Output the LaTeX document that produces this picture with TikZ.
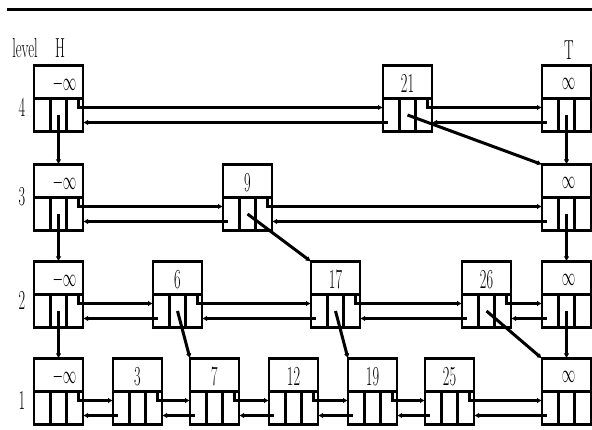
\documentclass[tikz,border=0pt]{standalone}
\usetikzlibrary{calc,arrows.meta}
\newcommand\tx[1]{\scalebox{0.65}[1.25]{#1}}
\tikzset{
  cellbox/.style={draw, line width=2.6pt, minimum width=49pt, minimum height=66pt, inner sep=0pt, outer sep=0pt},
  boxline/.style={line width=2.4pt},
  link/.style={line width=3pt, -{Latex[length=5pt,width=5.5pt]}},
  valtext/.style={font=\fontsize{22}{22}\selectfont, inner sep=0pt},
}
% name, left, top, label, label xshift
\newcommand\snode[5]{%
  \node[cellbox] (#1) at (#2+24.5,#3+33.5) {};
  \draw[boxline] (#1.west) -- (#1.east);
  \draw[boxline] ($(#1.south west)!1/3!(#1.south east)$) -- ($(#1.west)!1/3!(#1.east)$);
  \draw[boxline] ($(#1.south west)!2/3!(#1.south east)$) -- ($(#1.west)!2/3!(#1.east)$);
  \node[valtext] (#1-v) at ($(#1.north)!0.55!(#1.center)+(#5,0)$) {\tx{#4}};
  \coordinate (#1-m) at ($(#1.center)!0.5!(#1.south)$);
  \coordinate (#1-fo) at ($(#1.east)+(-5,0)$);
  \coordinate (#1-fk) at ($(#1.east)+(-5,9)$);
  \coordinate (#1-fi) at ($(#1.west)+(0,9)$);
  \coordinate (#1-bo) at ($(#1.west)+(5,24)$);
  \coordinate (#1-bi) at ($(#1.east)+(0,24)$);
}
\newcommand\biline[2]{%
  \draw[link] (#1-fo) -- (#1-fk) -- (#2-fi);
  \draw[link] (#2-bo) -- (#1-bi);
}
\begin{document}
\begin{tikzpicture}[x=1pt,y=-1pt]
\useasboundingbox (0,0) rectangle (592,430);
\coordinate (rl) at (7,10);
\coordinate (rr) at (592,10);
\draw[line width=3pt] (rl) -- (rr);

\node[valtext] (lev) at (25,48) {\tx{level}};
\node[valtext] (H) at (60,48) {\tx{H}};
\node[valtext] (T) at (569,50) {\tx{T}};
\node[valtext] (l4) at (22,107) {\tx{4}};
\node[valtext] (l3) at (22,197) {\tx{3}};
\node[valtext] (l2) at (22,300) {\tx{2}};
\node[valtext] (l1) at (22,400) {\tx{1}};

% level 4
\snode{a4}{34}{65}{$-\infty$}{6}
\snode{n21}{383}{65}{21}{0}
\snode{z4}{542}{65}{$\infty$}{2}
% level 3
\snode{a3}{34}{164}{$-\infty$}{6}
\snode{n9}{223}{164}{9}{0}
\snode{z3}{542}{164}{$\infty$}{2}
% level 2
\snode{a2}{34}{261}{$-\infty$}{6}
\snode{n6}{153}{261}{6}{0}
\snode{n17}{311}{261}{17}{0}
\snode{n26}{462}{261}{26}{0}
\snode{z2}{542}{261}{$\infty$}{2}
% level 1
\snode{a1}{34}{358}{$-\infty$}{6}
\snode{n3}{113}{358}{3}{0}
\snode{n7}{190}{358}{7}{0}
\snode{n12}{269}{358}{12}{0}
\snode{n19}{348}{358}{19}{0}
\snode{n25}{425}{358}{25}{0}
\snode{z1}{542}{358}{$\infty$}{2}

% horizontal links
\biline{a4}{n21}\biline{n21}{z4}
\biline{a3}{n9}\biline{n9}{z3}
\biline{a2}{n6}\biline{n6}{n17}\biline{n17}{n26}\biline{n26}{z2}
\biline{a1}{n3}\biline{n3}{n7}\biline{n7}{n12}\biline{n12}{n19}\biline{n19}{n25}\biline{n25}{z1}

% vertical links
\draw[link] (a4-m) -- (a3.north);
\draw[link] (a3-m) -- (a2.north);
\draw[link] (a2-m) -- (a1.north);
\draw[link] (z4-m) -- (z3.north);
\draw[link] (z3-m) -- (z2.north);
\draw[link] (z2-m) -- (z1.north);

% diagonal links
\draw[link] (n21-m) -- (z3.north west);
\draw[link] (n9-m) -- (n17.north west);
\draw[link] (n6-m) -- (n7.north west);
\draw[link] (n17-m) -- (n19.north west);
\draw[link] (n26-m) -- (z1.north west);
\end{tikzpicture}
\end{document}
